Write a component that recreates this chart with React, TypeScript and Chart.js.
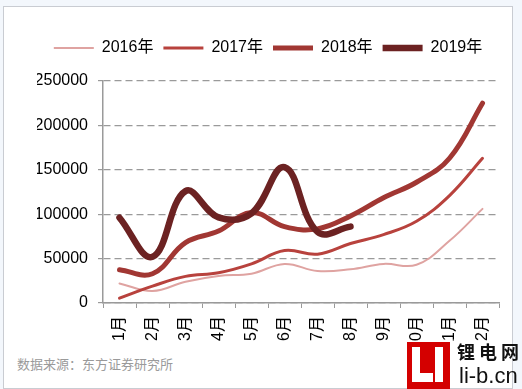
import React, { useEffect, useRef } from "react";
import { Chart, registerables } from "chart.js";

Chart.register(...registerables);

const months = ["1月", "2月", "3月", "4月", "5月", "6月", "7月", "8月", "9月", "10月", "11月", "12月"];
const seriesNames = ["2016年", "2017年", "2018年", "2019年"];
const s2016 = [22000, 13500, 24000, 30500, 33000, 44000, 36000, 38000, 44000, 43000, 70000, 106000];
const s2017 = [5500, 19000, 30000, 34000, 44000, 59000, 55000, 67000, 77000, 92000, 121000, 163000];
const s2018 = [37500, 33000, 68000, 81000, 102000, 86000, 83500, 98000, 118500, 136000, 163000, 225000];
const s2019 = [96000, 52000, 126000, 96500, 101000, 153000, 80000, 86000, null, null, null, null];
const yTicks = [0, 50000, 100000, 150000, 200000, 250000];

const colors = ["#DFA3A1", "#B8423D", "#A13733", "#6C2222"];
const widths = [2, 3, 5, 6.5];

const FONT = "'Liberation Sans', Arial, 'Noto Sans CJK SC', sans-serif";

export default function App() {
  const ref = useRef<HTMLCanvasElement | null>(null);
  useEffect(() => {
    document.body.style.margin = "0";
    const all = [s2016, s2017, s2018, s2019];
    const legendGap = {
      id: "legendGap",
      beforeInit(chart: any) {
        const orig = chart.legend.fit;
        chart.legend.fit = function () {
          orig.call(this);
          this.height += 15;
        };
      },
    };
    const chart = new Chart(ref.current as HTMLCanvasElement, {
      type: "line",
      data: {
        labels: months,
        datasets: seriesNames.map((name, i) => ({
          label: name,
          data: all[i],
          borderColor: colors[i],
          backgroundColor: colors[i],
          borderWidth: widths[i],
          pointRadius: 0,
          pointHoverRadius: 0,
          pointBorderWidth: widths[i],
          pointBorderColor: colors[i],
          tension: 0.4,
          borderCapStyle: "round",
          borderJoinStyle: "round",
          fill: false,
          spanGaps: false,
          order: 3 - i,
        })),
      },
      options: {
        responsive: false,
        animation: false,
        layout: { padding: { left: 37, right: 23, top: 30, bottom: 0 } },
        plugins: {
          legend: {
            position: "top",
            labels: {
              usePointStyle: true,
              pointStyle: "line",
              pointStyleWidth: 40,
              padding: 10,
              color: "#000",
              font: { family: FONT, size: 16 },
              sort: (a: any, b: any) => a.datasetIndex - b.datasetIndex,
            },
          },
          tooltip: { enabled: false },
        },
        scales: {
          x: {
            offset: true,
            grid: {
              drawOnChartArea: false,
              drawTicks: true,
              tickLength: 5,
              color: "#9a9a9a",
              offset: true,
            },
            border: { display: true, color: "#9a9a9a", width: 1.5 },
            ticks: {
              minRotation: 90,
              maxRotation: 90,
              autoSkip: false,
              padding: 8,
              color: "#000",
              font: { family: FONT, size: 16 },
            },
            afterFit: (s: any) => {
              s.height = 38;
            },
          },
          y: {
            min: 0,
            max: 250000,
            afterBuildTicks: (s: any) => {
              s.ticks = yTicks.map((v) => ({ value: v }));
            },
            ticks: {
              padding: 10,
              color: "#000",
              font: { family: FONT, size: 16 },
              callback: (v: any) => String(v),
            },
            grid: {
              color: "#9a9a9a",
              lineWidth: 1.2,
              tickLength: 5,
              drawTicks: true,
              tickColor: "#9a9a9a",
            },
            border: { display: true, color: "#9a9a9a", width: 1.5, dash: [7, 4] },
            afterFit: (s: any) => {
              s.width = 66;
            },
          },
        },
      },
      plugins: [legendGap],
    } as any);
    return () => chart.destroy();
  }, []);

  return (
    <div style={{ position: "fixed", left: 0, top: 0, width: 522, height: 389, background: "#F3F7FC", overflow: "hidden" }}>
      <div
        style={{
          position: "absolute",
          left: 3,
          top: 6,
          width: 508,
          height: 381,
          background: "#fff",
          border: "1px solid #C9CCD2",
        }}
      />
      <canvas ref={ref} width={522} height={341} style={{ position: "absolute", left: 0, top: 0, width: 522, height: 341 }} />
      <div
        style={{
          position: "absolute",
          left: 17,
          top: 354,
          fontFamily: "'Noto Sans CJK SC', sans-serif",
          fontSize: 13,
          color: "#9a9a9a",
          whiteSpace: "nowrap",
        }}
      >
        数据来源：东方证券研究所
      </div>
      <div style={{ position: "absolute", left: 407, top: 342, width: 43, height: 47, background: "#D40000" }}>
        <div style={{ position: "absolute", left: 5, top: 5, width: 8, height: 35, background: "#fff" }} />
        <div style={{ position: "absolute", left: 5, top: 31, width: 21, height: 9, background: "#fff" }} />
        <div style={{ position: "absolute", left: 28, top: 5, width: 8, height: 35, background: "#fff" }} />
      </div>
      <div
        style={{
          position: "absolute",
          left: 457,
          top: 340,
          fontFamily: "'Noto Sans CJK SC', sans-serif",
          fontWeight: 700,
          fontSize: 18,
          letterSpacing: 4,
          color: "#111",
          whiteSpace: "nowrap",
          lineHeight: "22px",
        }}
      >
        锂电网
      </div>
      <div
        style={{
          position: "absolute",
          left: 459,
          top: 363,
          fontFamily: "'Liberation Sans', Arial, sans-serif",
          fontSize: 22,
          color: "#111",
          whiteSpace: "nowrap",
          lineHeight: "26px",
        }}
      >
        li-b.cn
      </div>
    </div>
  );
}
